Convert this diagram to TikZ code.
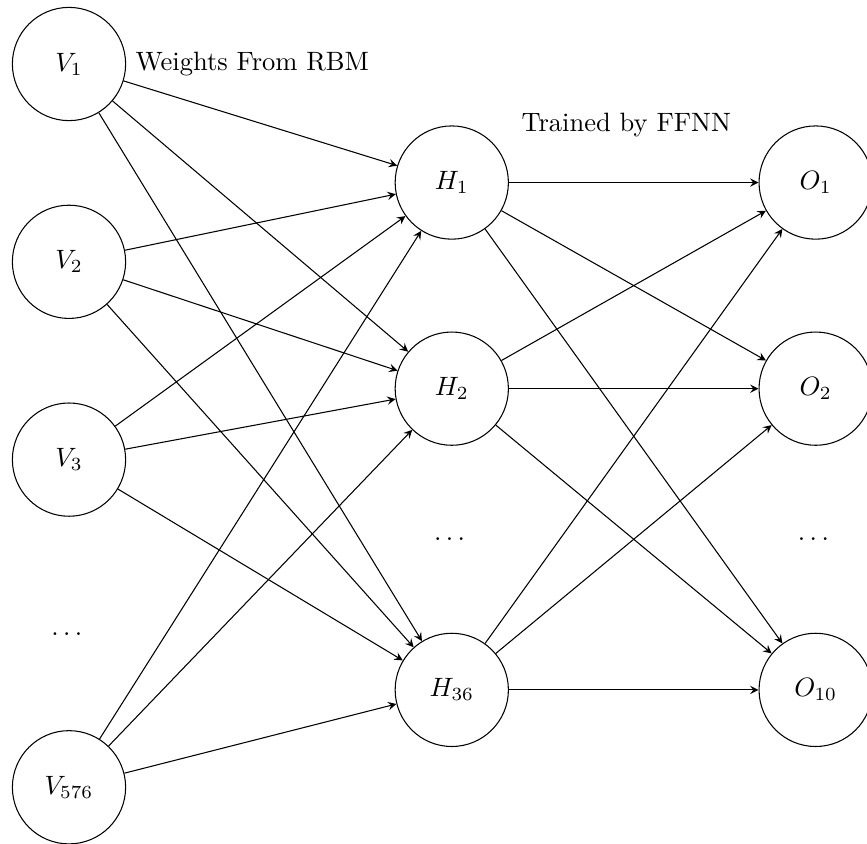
\documentclass[tikz,border=0pt]{standalone}
\usepackage{amsmath}
\usetikzlibrary{positioning}

\begin{document}
\begin{tikzpicture}[neuron/.style={circle,draw,minimum size=1.5cm}, >=stealth]
    \useasboundingbox (-0.914, -10.32) rectangle (10.57, 0.848);
    % visible layer
    \node[neuron] (v1) at (0, 0) {$V_1$};
    \node[neuron] (v2) at (0, -2.62) {$V_2$};
    \node[neuron] (v3) at (0, -5.24) {$V_3$};
    \node (vdots) at (0, -7.55) {$\dots$};
    \node[neuron] (v576) at (0, -9.58) {$V_{576}$};
    % hidden layer
    \node[neuron] (h1) at (5.07, -1.57) {$H_1$};
    \node[neuron] (h2) at (5.07, -4.30) {$H_2$};
    \node (hdots) at (5.07, -6.29) {$\dots$};
    \node[neuron] (h36) at (5.07, -8.29) {$H_{36}$};
    % output layer
    \node[neuron] (o1) at (9.89, -1.57) {$O_1$};
    \node[neuron] (o2) at (9.89, -4.30) {$O_2$};
    \node (odots) at (9.89, -6.29) {$\dots$};
    \node[neuron] (o10) at (9.89, -8.29) {$O_{10}$};
    % labels
    \node[right] (rbm) at (v1.east) {Weights From RBM};
    \node[right=0.8cm of h1.north] (ffnn) {Trained by FFNN};
    % connections
    \foreach \v in {v1, v2, v3, v576}
        \foreach \h in {h1, h2, h36}
            \draw[->] (\v) -- (\h);
    \foreach \h in {h1, h2, h36}
        \foreach \o in {o1, o2, o10}
            \draw[->] (\h) -- (\o);
\end{tikzpicture}
\end{document}
